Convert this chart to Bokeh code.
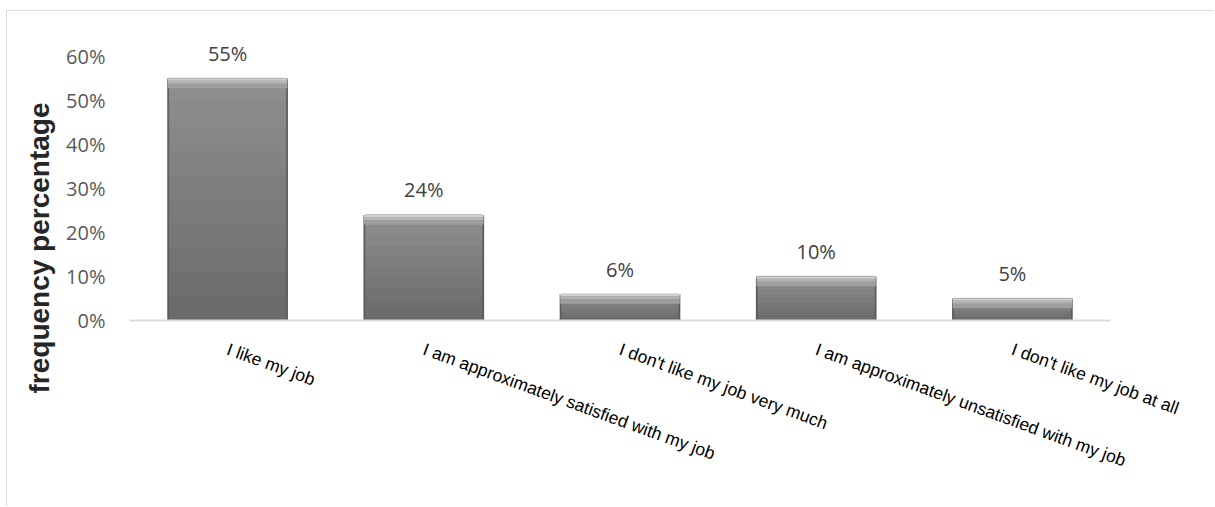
from bokeh.plotting import figure
from bokeh.models import ColumnDataSource, LabelSet, Range1d, FactorRange, FixedTicker, Title
from bokeh.core.properties import value
from bokeh.embed import file_html
from bokeh.resources import INLINE
import math

# ---------------- data ----------------
categories = [
    "I like my job",
    "I am approximately satisfied with my job",
    "I don't like my job very much",
    "I am approximately unsatisfied with my job",
    "I don't like my job at all",
]
values = [55, 24, 6, 10, 5]            # percent
value_labels = ["55%", "24%", "6%", "10%", "5%"]
y_ticks = [0, 10, 20, 30, 40, 50, 60]
y_tick_labels = ["0%", "10%", "20%", "30%", "40%", "50%", "60%"]
axis_title = "frequency percentage"

# ---------------- style ----------------
bar_w_outer = 0.615
bar_w_inner = 0.595
grad_top = (0x90, 0x90, 0x90)
grad_bot = (0x6a, 0x6a, 0x6a)
n_bands = 10

p = figure(
    x_range=FactorRange(*categories), y_range=Range1d(0, 65),
    width=1208, height=496, output_backend="svg", toolbar_location=None,
    min_border_left=122, min_border_right=105, min_border_top=23, min_border_bottom=187,
    background_fill_color="white", border_fill_color="white",
)
p.styles = {"margin-left": "6px", "margin-top": "10px",
            "border-left": "1px solid #d9d9d9", "border-top": "1px solid #d9d9d9"}
p.outline_line_color = None
p.grid.grid_line_color = None

# outer dark edge of bars
p.vbar(x=categories, top=values, bottom=0, width=bar_w_outer, fill_color="#5a5a5a", line_color=None)

# gradient bands
gx, gb, gt, gc = [], [], [], []
for c, v in zip(categories, values):
    for k in range(n_bands):
        f = (k + 0.5) / n_bands
        col = tuple(int(grad_bot[i] + (grad_top[i] - grad_bot[i]) * f) for i in range(3))
        gx.append(c)
        gb.append(v * k / n_bands)
        gt.append(v * (k + 1) / n_bands + 0.05)
        gc.append("#%02x%02x%02x" % col)
p.vbar(x=gx, bottom=gb, top=gt, width=bar_w_inner, fill_color=gc, line_color=gc, line_width=0.5)

# top bevel
bevels = [(0.0, 0.5, "#d0d0d0"), (0.5, 1.2, "#b4b4b4"), (1.2, 2.2, "#9e9e9e")]
for d0, d1, col in bevels:
    p.vbar(x=categories, top=[v - d0 for v in values], bottom=[v - d1 for v in values],
           width=bar_w_outer - 0.006, fill_color=col, line_color=None)

# axes
p.yaxis.ticker = FixedTicker(ticks=y_ticks)
p.yaxis.major_label_overrides = dict(zip(y_ticks, y_tick_labels))
p.yaxis.axis_line_color = None
p.yaxis.major_tick_line_color = None
p.yaxis.minor_tick_line_color = None
p.yaxis.major_tick_out = 0
p.yaxis.major_label_standoff = 24
p.yaxis.major_label_text_font = "Open Sans"
p.yaxis.major_label_text_font_size = "20px"
p.yaxis.major_label_text_color = "#595959"

p.xaxis.axis_line_color = "#d9d9d9"
p.xaxis.axis_line_width = 2
p.xaxis.major_tick_line_color = None
p.xaxis.minor_tick_line_color = None
p.xaxis.major_tick_out = 0
p.xaxis.major_label_orientation = -math.radians(20)
p.xaxis.major_label_standoff = 28
p.xaxis.major_label_text_font = "Liberation Sans"
p.xaxis.major_label_text_font_size = "17.5px"
p.xaxis.major_label_text_color = "#000000"

# value labels
vsrc = ColumnDataSource(dict(x=categories, y=values, t=value_labels))
p.add_layout(LabelSet(x="x", y="y", text="t", source=vsrc, y_offset=25,
                      text_align="center", text_baseline="middle",
                      text_font=value("Open Sans"), text_font_size=value("20px"),
                      text_color="#404040"))

# axis title
p.add_layout(Title(text=axis_title, align="left", offset=-73, standoff=17,
                   text_font="Liberation Sans", text_font_style="bold",
                   text_font_size="28px", text_color="#262626"), "left")

open("out.html", "w").write(file_html(p, INLINE))
